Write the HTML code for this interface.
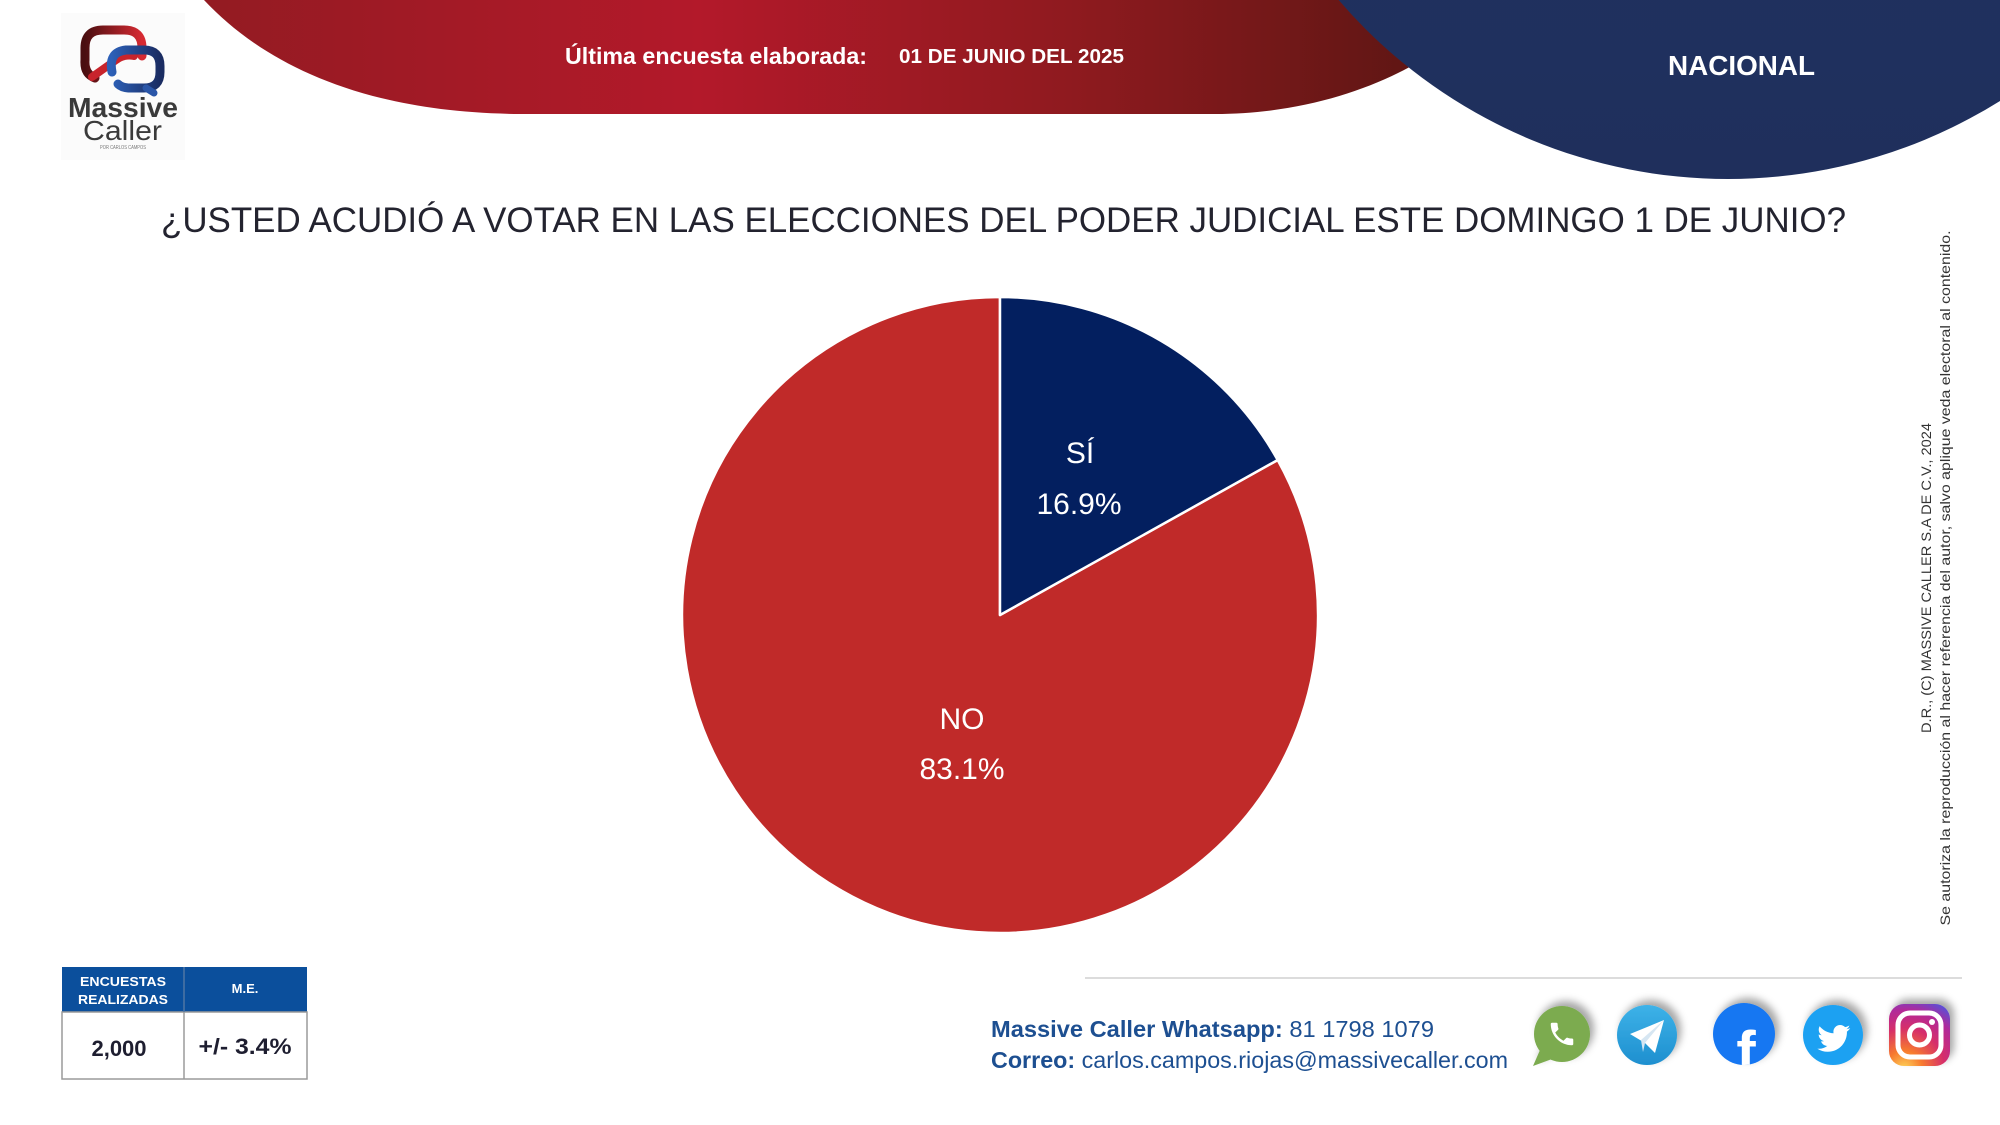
<!DOCTYPE html>
<html>
<head>
<meta charset="utf-8">
<style>
  html,body{margin:0;padding:0;background:#fff;}
  body{width:2000px;height:1125px;overflow:hidden;}
  svg{display:block;}
</style>
</head>
<body>
<svg width="2000" height="1125" viewBox="0 0 2000 1125" xmlns="http://www.w3.org/2000/svg">
  <defs>
    <linearGradient id="redHdr" gradientUnits="userSpaceOnUse" x1="204" y1="0" x2="1440" y2="0">
      <stop offset="0" stop-color="#931b22"/>
      <stop offset="0.4" stop-color="#b3192a"/>
      <stop offset="0.7" stop-color="#8f1a1f"/>
      <stop offset="1" stop-color="#5c1613"/>
    </linearGradient>
    <linearGradient id="blueHdr" x1="0" y1="0" x2="0" y2="1">
      <stop offset="0" stop-color="#21366a"/>
      <stop offset="1" stop-color="#1f2f5c"/>
    </linearGradient>
    <linearGradient id="lgRed" x1="0" y1="0" x2="1" y2="0">
      <stop offset="0" stop-color="#4a0e10"/>
      <stop offset="1" stop-color="#d62a32"/>
    </linearGradient>
    <linearGradient id="lgBlue" x1="0" y1="0" x2="1" y2="0">
      <stop offset="0" stop-color="#2c60b8"/>
      <stop offset="1" stop-color="#1a2c62"/>
    </linearGradient>
    <linearGradient id="tgGrad" x1="0" y1="0" x2="0" y2="1">
      <stop offset="0" stop-color="#3db2e8"/>
      <stop offset="1" stop-color="#1e8fcf"/>
    </linearGradient>
    <radialGradient id="igGrad" cx="0.25" cy="1.05" r="1.2">
      <stop offset="0" stop-color="#fdd55a"/>
      <stop offset="0.25" stop-color="#f77a2e"/>
      <stop offset="0.55" stop-color="#d62e6a"/>
      <stop offset="0.8" stop-color="#b02a9a"/>
      <stop offset="1" stop-color="#5a4fd6"/>
    </radialGradient>
    <filter id="sh" x="-40%" y="-40%" width="180%" height="180%">
      <feDropShadow dx="4" dy="-5" stdDeviation="4" flood-color="#000" flood-opacity="0.35"/>
    </filter>
    <clipPath id="fbClip"><circle cx="1744" cy="1034" r="31"/></clipPath>
  </defs>

  <!-- Header shapes -->
  <path d="M204 0 C262 62 360 113 520 114 L1215 114 C1300 114 1372 90 1422 60 L1480 0 Z" fill="url(#redHdr)"/>
  <circle cx="1728" cy="-334" r="513" fill="url(#blueHdr)"/>

  <text x="565" y="64" font-family="Liberation Sans, sans-serif" font-size="23" font-weight="bold" fill="#fff" textLength="302" lengthAdjust="spacingAndGlyphs">Última encuesta elaborada:</text>
  <text x="899" y="63" font-family="Liberation Sans, sans-serif" font-size="20" font-weight="bold" fill="#fff" textLength="225" lengthAdjust="spacingAndGlyphs">01 DE JUNIO DEL 2025</text>
  <text x="1668" y="75" font-family="Liberation Sans, sans-serif" font-size="28" font-weight="bold" fill="#fff" textLength="147" lengthAdjust="spacingAndGlyphs">NACIONAL</text>

  <!-- Logo -->
  <rect x="61" y="13" width="124" height="147" fill="#fbfbfb"/>
  <path d="M95 78 Q84 74 85 60 L85 48 Q85 30 103 30 L124 30 Q142 30 142 48 L142 56" fill="none" stroke="url(#lgRed)" stroke-width="9" stroke-linecap="round"/>
  <path d="M92 77 L116 60 Q124 54 134 56" fill="none" stroke="#c8242c" stroke-width="8" stroke-linecap="round"/>
  <path d="M112 72 Q108 52 126 50 L144 50 Q160 50 160 66 L160 72 Q160 88 144 88 L130 88 Q122 88 118 84" fill="none" stroke="url(#lgBlue)" stroke-width="9" stroke-linecap="round"/>
  <path d="M146 88 L154 93" fill="none" stroke="#2a56a8" stroke-width="7" stroke-linecap="round"/>
  <text x="68" y="117" font-family="Liberation Sans, sans-serif" font-size="28" font-weight="bold" fill="#3a3a3a" textLength="110" lengthAdjust="spacingAndGlyphs">Massive</text>
  <text x="83" y="140" font-family="Liberation Sans, sans-serif" font-size="28" fill="#3a3a3a" font-weight="normal" textLength="79" lengthAdjust="spacingAndGlyphs">Caller</text>
  <text x="100" y="149" font-family="Liberation Sans, sans-serif" font-size="5" fill="#777" textLength="46" lengthAdjust="spacingAndGlyphs">POR CARLOS CAMPOS</text>

  <!-- Title -->
  <text x="161" y="232" font-family="Liberation Sans, sans-serif" font-size="35" fill="#23232f" textLength="1685" lengthAdjust="spacingAndGlyphs">¿USTED ACUDIÓ A VOTAR EN LAS ELECCIONES DEL PODER JUDICIAL ESTE DOMINGO 1 DE JUNIO?</text>

  <!-- Pie -->
  <path d="M1000 615 L1277.7 460 A318 318 0 1 1 1000 297 Z" fill="#c02a29" stroke="#fff" stroke-width="2.5" stroke-linejoin="round"/>
  <path d="M1000 615 L1000 297 A318 318 0 0 1 1277.7 460 Z" fill="#031f5f" stroke="#fff" stroke-width="2.5" stroke-linejoin="round"/>

  <g font-family="Liberation Sans, sans-serif" font-size="30" fill="#fff" text-anchor="middle">
    <text x="1080" y="463">SÍ</text>
    <text x="1079" y="514">16.9%</text>
    <text x="962" y="729">NO</text>
    <text x="962" y="779">83.1%</text>
  </g>

  <!-- Vertical copyright -->
  <g font-family="Liberation Sans, sans-serif" font-size="14" fill="#333" text-anchor="middle">
    <text transform="translate(1931 578) rotate(-90)" textLength="310" lengthAdjust="spacingAndGlyphs">D.R., (C) MASSIVE CALLER S.A DE C.V., 2024</text>
    <text transform="translate(1950 578) rotate(-90)" textLength="695" lengthAdjust="spacingAndGlyphs">Se autoriza la reproducción al hacer referencia del autor, salvo aplique veda electoral al contenido.</text>
  </g>

  <!-- Table -->
  <rect x="62" y="967" width="245" height="45" fill="#0b4f9c"/>
  <rect x="62" y="1012" width="245" height="67" fill="#fff" stroke="#9a9a9a" stroke-width="1.5"/>
  <line x1="184" y1="967" x2="184" y2="1079" stroke="#9a9a9a" stroke-width="1.5"/>
  <line x1="184" y1="967" x2="184" y2="1012" stroke="#2a63a8" stroke-width="1"/>
  <g font-family="Liberation Sans, sans-serif" font-weight="bold" fill="#fff" text-anchor="middle" font-size="13">
    <text x="123" y="986" textLength="86" lengthAdjust="spacingAndGlyphs">ENCUESTAS</text>
    <text x="123" y="1004" textLength="90" lengthAdjust="spacingAndGlyphs">REALIZADAS</text>
    <text x="245" y="993">M.E.</text>
  </g>
  <g font-family="Liberation Sans, sans-serif" font-weight="bold" fill="#1e1e30" text-anchor="middle" font-size="22">
    <text x="119" y="1056">2,000</text>
    <text x="245" y="1054" textLength="93" lengthAdjust="spacingAndGlyphs">+/- 3.4%</text>
  </g>

  <!-- Divider -->
  <line x1="1085" y1="978" x2="1962" y2="978" stroke="#dcdcdc" stroke-width="2"/>

  <!-- Footer text -->
  <text x="991" y="1037" font-family="Liberation Sans, sans-serif" font-size="23" fill="#1d4f91" textLength="443" lengthAdjust="spacingAndGlyphs"><tspan font-weight="bold">Massive Caller Whatsapp:</tspan> 81 1798 1079</text>
  <text x="991" y="1068" font-family="Liberation Sans, sans-serif" font-size="23" fill="#1d4f91" textLength="517" lengthAdjust="spacingAndGlyphs"><tspan font-weight="bold">Correo:</tspan> carlos.campos.riojas@massivecaller.com</text>

  <!-- Social icons -->
  <g filter="url(#sh)">
    <circle cx="1562" cy="1034" r="28" fill="#7bab4f"/>
    <path d="M1540 1050 L1533 1066 L1552 1059 Z" fill="#7bab4f"/>
  </g>
  <path transform="translate(1547 1019) scale(1.25)" d="M6.6 10.8c1.4 2.8 3.8 5.1 6.6 6.6l2.2-2.2c.3-.3.7-.4 1-.2 1.1.4 2.3.6 3.6.6.6 0 1 .4 1 1V20c0 .6-.4 1-1 1-9.4 0-17-7.6-17-17 0-.6.4-1 1-1h3.5c.6 0 1 .4 1 1 0 1.3.2 2.5.6 3.6.1.3 0 .7-.2 1L6.6 10.8z" fill="#fff"/>

  <circle cx="1647" cy="1035" r="30" fill="url(#tgGrad)" filter="url(#sh)"/>
  <path d="M1630 1034 L1664 1020 L1655 1053 L1645 1043 Z" fill="#fff"/>
  <path d="M1645 1043 L1664 1020 L1641 1040 L1643 1052 Z" fill="#d6e6f2"/>

  <circle cx="1744" cy="1034" r="31" fill="#1877f2" filter="url(#sh)"/>
  <g clip-path="url(#fbClip)">
    <text x="1746" y="1072" font-family="Liberation Sans, sans-serif" font-size="58" font-weight="bold" fill="#fff" text-anchor="middle">f</text>
  </g>

  <circle cx="1833" cy="1035" r="30" fill="#1da1f2" filter="url(#sh)"/>
  <path transform="translate(1816 1021) scale(1.45)" d="M23.643 4.937c-.835.37-1.732.62-2.675.733.962-.576 1.7-1.49 2.048-2.578-.9.534-1.897.922-2.958 1.13-.85-.904-2.06-1.470-3.400-1.470-2.572 0-4.658 2.086-4.658 4.660 0 .364.042.718.12 1.06-3.873-.195-7.304-2.05-9.602-4.868-.4.69-.63 1.49-.63 2.342 0 1.616.823 3.043 2.072 3.878-.764-.025-1.482-.234-2.11-.583v.06c0 2.257 1.605 4.14 3.737 4.568-.392.106-.803.162-1.227.162-.3 0-.593-.028-.877-.082.593 1.85 2.313 3.198 4.352 3.234-1.595 1.25-3.604 1.995-5.786 1.995-.376 0-.747-.022-1.112-.065 2.062 1.323 4.51 2.093 7.14 2.093 8.57 0 13.255-7.098 13.255-13.254 0-.2-.005-.402-.014-.602.91-.658 1.7-1.478 2.323-2.41z" fill="#fff"/>

  <rect x="1889" y="1004" width="61" height="62" rx="15" fill="url(#igGrad)" filter="url(#sh)"/>
  <rect x="1898" y="1013" width="43" height="44" rx="12" fill="none" stroke="#fff" stroke-width="5"/>
  <circle cx="1919.5" cy="1035" r="10" fill="none" stroke="#fff" stroke-width="5"/>
  <circle cx="1932" cy="1022" r="3" fill="#fff"/>
</svg>
</body>
</html>
